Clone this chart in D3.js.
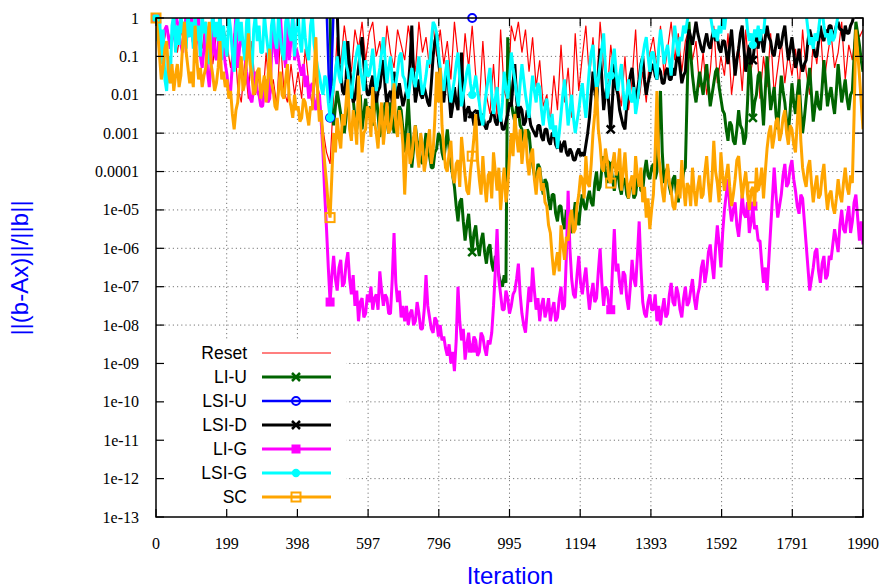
<!DOCTYPE html>
<html><head><meta charset="utf-8">
<script src="https://cdn.jsdelivr.net/npm/d3@7"></script>
<style>body{margin:0;background:#fff}</style></head>
<body>
<svg id="c" width="887" height="588"></svg>
<script>
// ---- data: log10 of ||b-Ax||/||b|| ----
// values above 0 lie above the plotted range (clipped, as in the original)
const xTickValues = [0,199,398,597,796,995,1194,1393,1592,1791,1990];
const yTickValues = [1,1e-1,1e-2,1e-3,1e-4,1e-5,1e-6,1e-7,1e-8,1e-9,1e-10,1e-11,1e-12,1e-13];
const yTickLabels = ["1","0.1","0.01","0.001","0.0001","1e-05","1e-06","1e-07","1e-08","1e-09","1e-10","1e-11","1e-12","1e-13"];
const seriesNames = ["Reset","LI-U","LSI-U","LSI-D","LI-G","LSI-G","SC"];
const seriesSteps = [10, 5, 10, 5, 5, 5, 5];   // iterations between stored samples
const markerIters = [0, 490, 890, 1280, 1680];

const resetLog = [0,-0.4,-0.8,-0.2,-0.6,-0.1,-0.9,-0.3,-0.7,-0.2,
-0.5,-1.0,-0.3,-0.8,-0.1,-0.6,-1.2,-0.4,-0.9,-0.2,
-0.7,-1.3,-0.4,-1.8,-2.2,-1.1,-2.1,-0.6,-2.0,-1.5,
-2.2,-0.9,-2.1,-1.6,-2.3,-0.5,-1.9,-2.2,-1.2,-2.0,
-1.4,-2.1,-0.8,-1.7,-2.3,-1.5,-2.0,-2.9,-3.5,-3.8,
-2.0,-0.5,-1.2,-0.2,-0.9,-1.4,-0.3,-0.8,-0.1,-1.1,
-0.4,-0.1,-1.0,-0.6,-1.5,-0.2,-0.9,-1.3,-0.3,-0.7,
-1.1,-0.2,-0.8,-1.4,-0.1,-0.9,-0.5,-1.3,-0.2,-1.0,
-0.3,-1.2,-0.6,-1.6,-0.1,-1.0,-1.8,-0.4,-1.3,-0.2,
-1.5,-2.3,-0.6,-2.0,-2.5,-1.2,-2.6,-0.3,-1.9,-2.2,
-0.2,-0.6,-0.1,-0.9,-0.3,-1.4,-0.5,-1.8,-1.1,-2.3,
-2.0,-2.7,-1.5,-2.4,-0.7,-2.2,-1.3,-2.6,-0.4,-1.9,
-1.0,-0.2,-1.6,-0.5,-1.9,-0.1,-1.2,-2.0,-0.7,-1.5,
-1.8,-2.3,-1.0,-2.4,-1.6,-0.3,-2.1,-1.4,-2.2,-0.9,
-0.5,-1.3,-0.2,-1.5,-0.8,-0.1,-1.1,-0.4,-1.4,-0.6,
-0.3,-1.1,-0.6,-1.8,-0.9,-2.0,-1.4,-0.2,-1.7,-1.0,
-1.5,-0.4,-2.0,-1.2,-0.7,-1.9,-0.3,-1.6,-1.1,-0.5,
-2.1,-1.0,-1.8,-0.4,-2.0,-1.3,-0.6,-1.7,-0.9,-1.5,
-0.8,-1.9,-0.3,-1.4,-2.0,-0.6,-1.2,-0.2,-1.7,-1.0,
-0.4,-1.3,-0.9,-0.1,-1.6,-0.7,-1.1,-0.2,-0.5,-0.3];

const liULog = [0,0.2,0.1,0.3,0.2,0.1,0.3,0.2,0.1,0.2,0.3,0.1,0.2,0.3,0.1,0.2,0.3,0.2,0.1,0.2,
0.3,0.1,0.2,0.3,0.1,0.2,0.3,0.2,0.1,0.2,0.3,0.1,0.2,0.3,0.1,0.2,0.3,0.2,0.1,0.2,
0.3,0.1,0.2,0.3,0.1,0.2,0.3,0.2,0.1,0.2,0.3,0.1,0.2,0.3,0.1,0.2,0.3,0.2,0.1,0.2,
0.3,0.1,0.2,0.3,0.1,0.2,0.3,0.2,0.1,0.2,0.3,0.1,0.2,0.3,0.1,0.2,0.3,0.2,0.1,0.2,
0.1,0.2,0.3,0.1,0.2,0.3,0.1,0.2,0.3,0.1,0.2,0.3,0.1,0.2,0.3,0.1,0.2,0.3,0.1,-2.3,
-2.8,-2.3,-1.9,-2.2,-2.5,-2.8,-3.0,-2.6,-2.2,-1.9,-1.7,-2.1,-2.6,-2.9,-2.4,-2.0,-2.9,-2.5,-2.1,-2.6,
-2.3,-2.6,-2.8,-2.4,-2.0,-2.5,-3.1,-2.8,-2.5,-2.2,-2.7,-3.0,-2.2,-2.6,-3.0,-2.7,-2.6,-2.3,-2.4,-2.9,
-3.5,-2.8,-2.1,-3.0,-3.9,-3.4,-2.8,-3.2,-3.3,-3.7,-3.8,-3.4,-3.0,-3.5,-3.6,-3.9,-3.9,-3.5,-3.4,-3.0,
-3.1,-3.5,-3.7,-3.3,-2.9,-3.4,-3.8,-4.1,-4.4,-4.9,-5.3,-4.8,-4.7,-5.3,-5.8,-5.4,-5.1,-5.7,-6.1,-5.6,
-5.4,-5.9,-6.2,-5.8,-5.6,-6.1,-6.4,-6.0,-5.9,-6.4,-6.6,-6.2,-6.3,-6.7,-6.9,-7.0,-6.7,-6.9,-0.5,-1.6,
-2.2,-2.5,-2.7,-2.3,-2.4,-2.8,-2.9,-3.2,-3.3,-2.9,-3.0,-3.5,-3.8,-4.1,-4.3,-3.8,-3.9,-4.3,-4.6,-4.2,
-4.3,-4.7,-5.0,-4.6,-4.6,-5.1,-5.3,-4.9,-4.9,-5.3,-5.5,-5.0,-5.1,-5.5,-5.6,-5.2,-4.8,-5.1,-5.4,-4.9,
-4.6,-4.9,-5.0,-4.7,-4.5,-4.8,-4.9,-4.3,-4.0,-4.5,-4.4,-3.9,-3.6,-4.0,-4.3,-3.9,-3.8,-4.2,-4.5,-4.1,
-4.0,-4.4,-4.6,-4.2,-4.2,-4.6,-4.7,-4.3,-4.3,-4.7,-4.6,-4.2,-4.1,-4.5,-4.5,-4.0,-3.7,-4.1,-4.2,-3.9,
-3.8,-4.2,-4.0,-2.8,-1.9,-3.5,-4.3,-4.0,-3.9,-4.4,-4.6,-4.2,-4.1,-4.6,-4.8,-4.3,-4.4,-4.0,-3.9,-2.0,
-0.1,-0.9,-1.5,-1.9,-2.2,-1.8,-1.4,-1.7,-2.0,-1.6,-1.2,-1.8,-2.3,-2.0,-1.7,-1.4,-1.3,-1.8,-2.1,-2.4,
-2.5,-2.9,-3.2,-2.7,-2.8,-3.2,-3.3,-2.9,-2.4,-2.8,-2.9,-3.3,-3.1,-2.2,-1.0,-1.6,-2.6,-2.2,-2.0,-1.5,
-1.4,-2.1,-2.8,-1.9,-1.0,-1.7,-2.4,-2.1,-1.8,-2.5,-2.9,-2.2,-1.5,-1.9,-2.2,-2.7,-3.0,-2.4,-1.7,-2.2,
-2.5,-2.0,-1.6,-2.4,-3.0,-2.6,-2.1,-1.7,-1.3,-2.0,-2.7,-2.3,-1.9,-2.3,-2.4,-1.8,-1.1,-1.7,-2.3,-2.0,
-1.8,-2.2,-2.5,-1.9,-1.2,-1.7,-2.2,-1.9,-1.6,-2.1,-2.4,-2.0,-1.9,-1.0,-0.1,-0.4,-0.7,-1.1,-1.4];

const lsiULog = [0,0.3,0.3,0.3,0.3,0.3,0.3,0.3,0.3,0.3,
0.3,0.3,0.3,0.3,0.3,0.3,0.3,0.3,0.3,0.3,
0.3,0.3,0.3,0.3,0.3,0.3,0.3,0.3,0.3,0.3,
0.3,0.3,0.3,0.3,0.3,0.3,0.3,0.3,0.3,0.3,
0.3,0.3,0.3,0.3,0.3,0.3,0.3,0.3,0.3,-2.6,
0.3,0.3,0.3,0.3,0.3,0.3,0.3,0.3,0.3,0.3,
0.3,0.3,0.3,0.3,0.3,0.3,0.3,0.3,0.3,0.3,
0.3,0.3,0.3,0.3,0.3,0.3,0.3,0.3,0.3,0.3,
0.3,0.3,0.3,0.3,0.3,0.3,0.3,0.3,0.3,0,
0.3,0.3,0.3,0.3,0.3,0.3,0.3,0.3,0.3,0.3,
0.3,0.3,0.3,0.3,0.3,0.3,0.3,0.3,0.3,0.3,
0.3,0.3,0.3,0.3,0.3,0.3,0.3,0.3,0.3,0.3,
0.3,0.3,0.3,0.3,0.3,0.3,0.3,0.3,0.3,0.3,
0.3,0.3,0.3,0.3,0.3,0.3,0.3,0.3,0.3,0.3,
0.3,0.3,0.3,0.3,0.3,0.3,0.3,0.3,0.3,0.3,
0.3,0.3,0.3,0.3,0.3,0.3,0.3,0.3,0.3,0.3,
0.3,0.3,0.3,0.3,0.3,0.3,0.3,0.3,0.3,0.3,
0.3,0.3,0.3,0.3,0.3,0.3,0.3,0.3,0.3,0.3,
0.3,0.3,0.3,0.3,0.3,0.3,0.3,0.3,0.3,0.3,
0.3,0.3,0.3,0.3,0.3,0.3,0.3,0.3,0.3,0.3];

const lsiDLog = [0,0.2,0.1,0.3,0.2,0.1,0.3,0.2,0.1,0.2,0.3,0.1,0.2,0.3,0.1,0.2,0.3,0.2,0.1,0.2,
0.3,0.1,0.2,0.3,0.1,0.2,0.3,0.2,0.1,0.2,0.3,0.1,0.2,0.3,0.1,0.2,0.3,0.2,0.1,0.2,
0.3,0.1,0.2,0.3,0.1,0.2,0.3,0.2,0.1,0.2,0.3,0.1,0.2,0.3,0.1,0.2,0.3,0.2,0.1,0.2,
0.3,0.1,0.2,0.3,0.1,0.2,0.3,0.2,0.1,0.2,0.3,0.1,0.2,0.3,0.1,0.2,0.3,0.2,0.1,0.2,
0.2,0.1,0.3,0.2,0.1,0.3,0.2,0.1,0.3,0.2,0.1,0.2,0.3,0.1,0.2,0.3,0.1,0.2,0.2,0.1,
0.2,0.1,0.2,-1.2,-1.4,-1.9,-2.0,-1.6,-0.6,-1.3,-1.8,-2.2,-2.1,-1.7,-1.3,-0.9,-0.5,-1.2,-1.7,-2.0,
-2.0,-1.7,-1.5,-2.0,-2.2,-1.9,-1.8,-1.4,-1.1,-1.8,-2.3,-2.0,-1.9,-2.2,-1.4,-1.8,-2.1,-1.7,-2.0,-2.3,
-2.1,-1.9,-1.8,-1.2,-0.2,-1.5,-2.2,-1.9,-1.6,-2.0,-2.1,-1.8,-2.0,-2.2,-2.3,-1.7,-1.0,-0.6,-0.4,-1.1,
-1.5,-1.9,-2.2,-1.7,-1.1,-2.0,-2.6,-2.3,-1.8,-2.2,-2.4,-1.6,-0.9,-2.1,-2.7,-2.4,-2.3,-2.6,-2.5,-2.8,
-2.6,-2.4,-2.8,-2.6,-2.5,-2.8,-2.9,-2.7,-2.7,-2.5,-2.4,-2.7,-2.8,-2.5,-2.6,-2.9,-2.9,-2.7,-2.5,-2.2,
-2.3,-1.7,-1.2,-2.1,-2.6,-2.3,-2.4,-2.8,-2.7,-2.4,-2.5,-2.8,-2.9,-3.0,-3.1,-2.8,-2.8,-3.1,-3.2,-2.9,
-2.9,-3.2,-3.3,-3.0,-3.0,-3.3,-3.4,-3.2,-3.5,-3.3,-3.2,-3.5,-3.6,-3.4,-3.5,-3.7,-3.7,-3.5,-3.4,-3.6,
-3.5,-3.6,-3.3,-3.0,-2.6,-2.0,-1.4,-1.9,-2.2,-1.5,-0.8,-1.6,-2.4,-2.0,-1.7,-2.3,-2.9,-2.1,-1.2,-1.8,
-2.0,-2.4,-2.6,-2.8,-2.9,-2.3,-1.8,-1.5,-1.3,-1.8,-2.2,-1.9,-1.6,-1.2,-1.0,-1.6,-2.0,-1.7,-1.5,-1.3,
-1.2,-1.5,-1.6,-1.3,-1.4,-1.7,-1.7,-1.4,-1.3,-1.6,-1.6,-1.3,-1.5,-1.1,-0.9,-1.3,-1.7,-1.5,-1.4,-0.7,
-0.3,-0.5,-0.7,-0.4,-0.1,-0.4,-0.6,-0.8,-0.9,-0.6,-0.4,-0.7,-0.8,-0.5,-0.3,-0.6,-0.5,-0.8,-0.9,-0.6,
-0.6,-0.9,-1.2,-0.7,-0.3,-0.9,-1.5,-1.1,-0.8,-0.4,-0.2,-0.8,-1.4,-1.0,-0.7,-1.2,-1.1,-0.7,-0.4,-0.8,
-0.3,-0.6,-0.9,-0.5,-0.2,-0.5,-0.6,-0.9,-1.0,-0.7,-0.4,-0.8,-0.7,-0.4,-0.2,-0.7,-1.1,-0.8,-0.5,-0.9,
-1.3,-1.1,-0.8,-1.2,-1.4,-1.2,-1.1,-0.6,-0.3,-0.5,-0.7,-1.0,-1.0,-0.6,-0.2,-0.5,-0.6,-0.3,-0.4,-0.2,
-0.2,-0.5,-0.4,-0.2,-0.1,-0.3,-0.3,-0.6,-0.2,-0.4,-0.4,-0.2,-0.1,0.1,0.1,0.2,0.1,0.2,0.1];

const liGLog = [0,-0.2,-0.3,-0.7,-0.6,-0.3,-0.2,-0.5,-0.8,-0.6,-0.4,0.1,-0.1,-0.4,-0.7,-0.9,-0.3,0.1,-0.5,-0.3,
0.1,-0.6,-0.9,-0.5,0.1,-1.0,-1.3,-0.8,-0.2,-1.4,-1.8,-1.2,0.1,-0.9,-1.1,-0.7,0.1,-0.6,-0.8,-1.2,
-1.5,-2.0,-1.9,-1.2,-0.7,0.1,-1.3,-0.8,-0.4,-0.7,-1.0,-1.4,-1.7,-2.1,-2.2,-1.8,-1.4,-1.9,-2.0,-2.3,
-2.3,-1.9,-1.6,-2.2,-2.1,-1.0,0.1,-0.9,-1.2,-0.6,0.1,-0.7,-0.9,-1.3,0.1,-1.1,-0.6,0.1,-1.1,-0.8,
-1.0,-1.3,-1.5,-1.2,-1.8,-1.5,-2.1,-1.8,-1.7,-2.2,-2.4,-2.0,-2.0,-2.7,-3.5,-4.6,-5.5,-6.5,-7.4,-6.7,
-6.2,-6.8,-7.1,-6.5,-6.3,-7.0,-6.9,-6.4,-6.1,-6.8,-7.2,-6.7,-7.5,-7.1,-7.9,-7.4,-7.3,-7.8,-7.7,-7.2,
-7.4,-7.0,-7.6,-7.3,-7.2,-7.6,-6.6,-7.1,-7.5,-7.2,-7.3,-7.7,-7.7,-6.8,-5.6,-6.9,-7.4,-7.1,-7.8,-7.5,
-7.9,-7.5,-8.0,-7.7,-7.6,-8.0,-7.9,-7.4,-7.7,-8.1,-8.1,-7.6,-6.7,-7.5,-7.8,-8.1,-8.2,-7.8,-7.9,-8.3,
-8.0,-8.4,-8.3,-8.6,-8.8,-8.5,-9.0,-8.7,-9.2,-8.4,-7.0,-7.9,-8.4,-8.1,-8.9,-8.5,-8.2,-8.7,-8.6,-8.3,
-8.4,-8.8,-8.7,-8.2,-8.3,-8.6,-8.8,-8.4,-8.5,-8.2,-7.5,-6.6,-5.5,-6.8,-7.2,-7.6,-7.6,-7.1,-7.3,-7.7,
-7.5,-7.2,-7.1,-6.8,-6.4,-7.2,-7.7,-8.0,-8.2,-7.6,-7.0,-7.4,-6.5,-7.1,-7.6,-7.3,-7.9,-7.5,-7.3,-7.8,
-7.6,-7.3,-7.9,-7.6,-7.4,-7.9,-7.8,-7.3,-7.0,-7.6,-7.5,-6.2,-4.5,-6.0,-6.8,-7.2,-7.3,-6.7,-6.2,-6.9,
-7.2,-6.8,-6.5,-7.1,-7.6,-7.2,-6.9,-7.4,-7.3,-6.6,-6.0,-6.9,-7.5,-7.0,-7.1,-7.5,-7.6,-6.5,-5.5,-6.6,
-6.4,-6.9,-7.2,-6.6,-6.7,-7.3,-7.6,-7.0,-6.3,-6.8,-7.0,-6.2,-5.3,-6.5,-7.4,-7.7,-7.8,-7.4,-7.2,-7.6,
-7.6,-7.2,-7.9,-7.5,-8.0,-7.6,-7.3,-7.8,-7.7,-7.2,-6.9,-7.4,-7.5,-7.0,-7.2,-7.6,-7.8,-7.3,-7.0,-7.5,
-7.4,-7.1,-6.8,-7.3,-7.6,-7.2,-7.0,-6.5,-6.3,-6.9,-6.6,-6.1,-5.9,-6.4,-6.8,-6.0,-5.4,-5.9,-6.5,-5.6,
-5.0,-4.6,-4.2,-4.9,-5.3,-5.0,-4.8,-5.4,-5.7,-5.2,-4.6,-5.1,-5.2,-4.8,-5.6,-5.3,-4.9,-5.5,-5.4,-5.8,
-5.8,-6.4,-6.9,-6.5,-7.1,-6.3,-5.5,-4.7,-3.9,-4.6,-5.2,-4.9,-4.6,-4.1,-3.8,-4.4,-4.3,-3.9,-3.7,-4.2,
-4.5,-4.9,-5.1,-4.6,-4.7,-5.3,-5.9,-6.5,-7.1,-6.8,-6.5,-6.1,-6.0,-6.6,-6.9,-6.4,-6.2,-6.8,-6.7,-6.2,
-6.3,-5.9,-5.5,-5.8,-6.1,-5.4,-5.0,-5.5,-5.6,-5.2,-4.9,-5.6,-5.3,-4.8,-4.6,-5.2,-5.8,-5.3,-5.9];

const lsiGLog = [0,-0.6,0.1,-1.2,-0.3,-1.6,-1.9,-1.0,-1.7,-0.2,0.1,-0.9,-0.2,-0.7,0.1,-0.4,-0.1,-0.8,0.2,-0.5,
-0.1,-0.8,0.1,-0.6,-0.2,-1.0,0.1,-0.4,-0.1,-0.8,-1.2,-0.3,0.1,-0.5,-0.1,-0.6,0.2,-1.1,-0.2,-0.7,
-1.0,0.1,-0.3,-0.9,-1.4,-0.2,0.1,-0.6,-0.1,-0.7,-1.1,-0.1,0.2,-1.1,-1.5,-0.3,0.1,-0.6,-0.2,-0.9,
-0.9,0.1,-0.4,-0.8,-1.2,-0.2,0.1,-0.6,-0.8,0.1,-0.5,-0.9,-1.1,-0.1,0.1,-0.4,-0.6,0.1,-1.0,-0.3,
0.1,-0.6,-0.9,0.1,-0.5,-0.9,-1.1,-0.2,0.1,-0.7,-1.0,-1.3,-1.5,-1.8,-2.0,-1.5,-1.6,-2.2,-2.6,-2.1,
-1.8,-1.4,-1.0,-1.5,-1.7,-1.1,-0.6,-1.2,-1.4,-1.8,-2.1,-1.6,-1.2,-0.9,-0.7,-1.3,-1.6,-1.9,-1.1,-1.5,
-1.5,-1.2,-0.8,-1.4,-1.9,-1.6,-1.3,-0.9,-0.5,-1.1,-1.7,-1.3,-1.0,-1.6,-2.0,-1.7,-1.4,-1.0,-0.9,-1.5,
-1.6,-1.9,-2.1,-1.7,-1.3,-1.6,-1.8,-1.4,-1.0,-1.6,-2.0,-1.8,-1.5,-1.1,-1.2,-0.6,-0.1,-0.2,-0.4,-0.9,
-1.3,-1.7,-1.9,-1.4,-1.1,-1.8,-2.2,-1.9,-1.6,-1.2,-0.9,-1.6,-2.3,-2.0,-1.7,-1.4,-1.2,-1.7,-2.0,-1.8,
-1.5,-1.9,-2.2,-2.6,-2.8,-2.3,-1.9,-1.6,-1.3,-2.0,-2.5,-2.1,-1.8,-2.4,-2.7,-2.2,-1.4,-1.8,-2.1,-1.6,
-0.9,-1.3,-1.6,-2.0,-2.3,-1.7,-1.2,-1.6,-2.0,-2.3,-2.6,-2.0,-1.5,-1.9,-2.2,-1.7,-1.8,-2.4,-2.8,-2.3,
-2.1,-2.6,-2.9,-2.5,-3.1,-2.8,-3.4,-3.0,-2.5,-2.0,-1.6,-2.2,-2.8,-2.4,-2.0,-2.6,-3.0,-2.7,-2.4,-2.0,
-1.7,-2.2,-2.6,-1.9,-1.3,-0.9,-0.7,-1.4,-1.9,-1.6,-1.2,-0.8,-0.4,-1.3,-2.1,-1.8,-1.5,-1.1,-0.8,-1.4,
-1.9,-1.5,-1.2,-1.9,-2.4,-2.0,-1.6,-2.1,-2.2,-1.8,-2.5,-2.2,-1.8,-1.3,-1.0,-0.7,-0.5,-1.0,-1.4,-0.9,
-0.9,-1.3,-1.6,-0.8,-0.3,-0.7,-1.2,-0.9,-0.7,-1.1,-1.5,-0.8,-0.2,-0.6,-1.0,-0.5,-0.6,-0.2,-0.4,-0.1,
0.2,0.3,0.1,0.2,0.3,0.1,0.2,0.3,0.1,0.2,0.3,0.2,0.1,-0.2,-0.5,-0.3,-0.6,-0.2,-0.4,0.1,
-0.3,0.1,0.2,0.3,0.1,0.2,0.3,0.2,0.1,0.3,0.2,0.1,0.2,-0.3,-0.6,-0.4,-0.7,-0.3,-0.5,-0.2,
-0.6,-0.3,-0.4,0.1,0.2,0.3,0.1,0.2,0.3,0.2,0.1,0.3,0.2,0.1,0.3,0.2,0.1,0.2,0.3,0.2,
0.1,0.3,0.2,0.1,0.3,0.2,0.1,-0.3,-0.7,-0.5,-0.8,-0.4,-0.6,-0.3,0.1,0.2,-0.2,-0.5,-0.4,-0.7,
-0.3,-0.6,-0.5,-0.2,0.1,0.2,0.3,0.1,0.2,0.3,0.1,0.2,0.3,0.2,0.1,0.2,0.3,0.1,0.2];

const scLog = [0,-0.4,-1.0,-1.6,-1.3,-0.8,-0.6,-1.4,-1.7,-1.2,-1.9,-1.5,-1.2,-1.8,-1.5,-0.7,-0.1,-0.9,-1.3,-1.7,
-1.4,-1.8,-0.2,-1.1,-1.6,-1.3,-1.8,-1.5,-1.3,-0.7,-0.1,-1.2,-1.5,-1.9,-1.7,-1.3,-0.6,-1.6,-1.4,-1.8,
-1.6,-2.1,-1.9,-2.5,-2.9,-2.4,-2.2,-1.5,-1.0,-1.9,-1.7,-1.1,-0.4,-1.2,-1.5,-2.0,-1.9,-1.4,-1.3,-2.1,
-1.8,-1.5,-2.2,-1.6,-0.8,-1.7,-1.9,-2.3,-2.4,-1.9,-1.4,-2.0,-2.1,-1.6,-1.2,-2.1,-2.3,-2.6,-2.0,-2.4,
-2.3,-2.7,-2.6,-2.1,-2.2,-2.5,-2.8,-2.3,-2.4,-1.5,-0.5,-2.0,-2.7,-2.4,-3.2,-3.8,-4.3,-4.9,-5.2,-4.1,
-3.0,-3.5,-2.6,-3.1,-3.4,-2.5,-2.8,-2.2,-1.6,-2.9,-3.2,-2.4,-2.7,-3.3,-1.5,-2.6,-3.5,-3.0,-2.9,-2.3,
-2.4,-3.1,-1.8,-2.7,-3.0,-3.4,-2.6,-2.2,-3.3,-2.8,-2.2,-3.0,-2.9,-2.5,-1.7,-2.8,-3.1,-2.4,-2.7,-3.3,
-4.6,-3.5,-3.0,-3.8,-3.6,-3.1,-2.8,-3.5,-3.9,-3.0,-3.3,-4.0,-3.7,-3.2,-2.9,-3.8,-3.5,-2.6,-1.4,-2.2,
-1.3,-2.8,-3.4,-3.9,-4.0,-3.5,-3.2,-4.1,-4.3,-3.8,-3.7,-4.4,-3.1,-3.6,-4.1,-4.5,-4.6,-4.0,-3.6,-3.1,
-2.5,-3.7,-4.2,-4.6,-3.6,-4.3,-4.8,-4.1,-4.0,-4.7,-3.5,-4.0,-4.5,-3.9,-5.0,-4.4,-3.9,-4.8,-4.4,-3.6,
-3.0,-3.6,-2.5,-3.1,-3.5,-2.9,-3.8,-3.3,-2.9,-3.7,-4.1,-3.6,-3.4,-4.2,-4.6,-4.0,-3.9,-4.5,-4.3,-4.8,
-4.9,-5.4,-5.6,-6.2,-6.7,-6.4,-6.1,-6.6,-5.4,-5.9,-6.3,-5.7,-5.8,-5.2,-5.0,-5.6,-5.5,-4.9,-4.6,-4.1,
-4.2,-4.7,-3.6,-4.3,-4.4,-3.8,-3.0,-2.5,-1.8,-2.9,-3.3,-3.9,-4.0,-3.4,-3.7,-4.2,-4.3,-3.8,-3.5,-4.1,
-3.9,-3.4,-4.5,-4.0,-3.5,-4.2,-4.7,-4.3,-4.1,-4.6,-3.6,-4.1,-4.4,-3.9,-4.8,-4.4,-5.2,-4.7,-5.5,-5.0,
-4.6,-3.5,-1.9,-3.6,-4.0,-4.5,-4.8,-4.2,-3.8,-4.3,-4.5,-4.9,-5.0,-4.6,-4.2,-4.7,-3.7,-4.4,-4.9,-4.3,
-4.4,-4.9,-3.9,-4.5,-4.9,-4.4,-4.1,-4.7,-4.6,-4.0,-3.6,-4.3,-4.8,-4.2,-3.2,-4.0,-4.3,-4.8,-3.5,-4.1,
-4.5,-4.1,-3.8,-4.4,-4.9,-4.6,-4.2,-3.7,-3.6,-4.2,-4.7,-4.3,-4.0,-4.6,-5.0,-4.5,-4.4,-4.9,-3.9,-4.5,
-4.3,-3.9,-4.7,-4.0,-3.4,-3.0,-2.8,-3.4,-3.1,-2.7,-2.6,-3.2,-3.0,-2.6,-2.4,-3.0,-3.3,-2.8,-2.9,-3.3,
-3.5,-2.7,-2.0,-3.2,-3.9,-4.2,-4.4,-3.9,-3.7,-4.3,-4.8,-4.4,-4.1,-4.7,-4.6,-4.1,-3.8,-4.5,-5.0,-4.6,
-4.5,-4.9,-5.1,-4.7,-4.2,-4.6,-4.8,-4.3,-3.9,-4.4,-4.6,-4.1,-4.3,-2.5,-0.3,-0.9,-1.5,-2.2,-2.9];

const seriesLogs = [resetLog, liULog, lsiULog, lsiDLog, liGLog, lsiGLog, scLog];

// ---- styles ----
const colors = ["#ff0000","#006400","#0000ff","#000000","#ff00ff","#00ffff","#ffa500"];
const widths = [1.2, 3, 2.5, 3, 3, 3, 3];
const markers = [null,"x","circleOpen","x","squareFill","circleFill","squareOpen"];

const L = 156, R = 863, T = 18, B = 517;
const svg = d3.select("#c");
const x = d3.scaleLinear().domain([0, 1990]).range([L, R]);
const y = d3.scaleLog().domain([1e-13, 1]).range([B, T]);

// grid
const g = svg.append("g");
g.selectAll(".gx").data(xTickValues.slice(1, -1)).join("line")
  .attr("x1", d => x(d)).attr("x2", d => x(d)).attr("y1", T).attr("y2", B)
  .attr("stroke", "#777").attr("stroke-width", 1).attr("stroke-dasharray", "1.2,3");
g.selectAll(".gy").data(yTickValues.slice(1, -1)).join("line")
  .attr("x1", L).attr("x2", R).attr("y1", d => y(d)).attr("y2", d => y(d))
  .attr("stroke", "#777").attr("stroke-width", 1).attr("stroke-dasharray", "1.2,3");

// opaque key background
svg.append("rect").attr("x", 158).attr("y", 341).attr("width", 188).attr("height", 171).attr("fill", "#fff");

svg.append("clipPath").attr("id", "clip").append("rect")
  .attr("x", L).attr("y", T).attr("width", R - L).attr("height", B - T);

function drawMarker(sel, type, cx, cy, color) {
  const s = 4;
  if (type === "x") {
    sel.append("path").attr("d", `M${cx-s},${cy-s}L${cx+s},${cy+s}M${cx-s},${cy+s}L${cx+s},${cy-s}`)
      .attr("stroke", color).attr("stroke-width", 2.5).attr("fill", "none");
  } else if (type === "circleOpen") {
    sel.append("circle").attr("cx", cx).attr("cy", cy).attr("r", 4)
      .attr("fill", "none").attr("stroke", color).attr("stroke-width", 2);
  } else if (type === "circleFill") {
    sel.append("circle").attr("cx", cx).attr("cy", cy).attr("r", 4.2).attr("fill", color);
  } else if (type === "squareFill") {
    sel.append("rect").attr("x", cx - 4.5).attr("y", cy - 4.5).attr("width", 9).attr("height", 9).attr("fill", color);
  } else if (type === "squareOpen") {
    sel.append("rect").attr("x", cx - 4.5).attr("y", cy - 4.5).attr("width", 9).attr("height", 9)
      .attr("fill", "none").attr("stroke", color).attr("stroke-width", 2);
  }
}

seriesLogs.forEach((data, k) => {
  const step = seriesSteps[k];
  const line = d3.line().x((d, i) => x(i * step)).y(d => y(Math.pow(10, d)));
  const layer = svg.append("g");
  layer.append("path").datum(data).attr("d", line).attr("clip-path", "url(#clip)")
    .attr("fill", "none").attr("stroke", colors[k]).attr("stroke-width", widths[k])
    .attr("stroke-linejoin", "bevel");
  if (markers[k]) {
    markerIters.forEach(it => {
      const v = data[Math.round(it / step)];
      if (v <= 0) drawMarker(layer, markers[k], x(it), y(Math.pow(10, v)), colors[k]);
    });
  }
});

// frame and ticks
svg.append("rect").attr("x", L).attr("y", T).attr("width", R - L).attr("height", B - T)
  .attr("fill", "none").attr("stroke", "#000").attr("stroke-width", 1.5);
const tk = svg.append("g").attr("stroke", "#000").attr("stroke-width", 1.2);
xTickValues.forEach(v => {
  tk.append("line").attr("x1", x(v)).attr("x2", x(v)).attr("y1", B).attr("y2", B - 8);
  tk.append("line").attr("x1", x(v)).attr("x2", x(v)).attr("y1", T).attr("y2", T + 8);
});
yTickValues.forEach(v => {
  tk.append("line").attr("x1", L).attr("x2", L + 8).attr("y1", y(v)).attr("y2", y(v));
  tk.append("line").attr("x1", R).attr("x2", R - 8).attr("y1", y(v)).attr("y2", y(v));
});

// tick labels
svg.selectAll(".xl").data(xTickValues).join("text")
  .attr("x", d => x(d)).attr("y", 549).attr("text-anchor", "middle")
  .attr("font-family", "'Liberation Serif','Times New Roman',serif").attr("font-size", 16)
  .attr("fill", "#000").text(d => d);
svg.selectAll(".yl").data(yTickValues).join("text")
  .attr("x", 139).attr("y", d => y(d) + 5.5).attr("text-anchor", "end")
  .attr("font-family", "'Liberation Serif','Times New Roman',serif").attr("font-size", 16)
  .attr("fill", "#000").text((d, i) => yTickLabels[i]);

// axis titles
svg.append("text").attr("x", 510).attr("y", 584).attr("text-anchor", "middle")
  .attr("font-family", "'Liberation Sans',Arial,sans-serif").attr("font-size", 24)
  .attr("fill", "#0000ff").text("Iteration");
svg.append("text").attr("transform", "translate(28,268) rotate(-90)").attr("text-anchor", "middle")
  .attr("font-family", "'Liberation Sans',Arial,sans-serif").attr("font-size", 24)
  .attr("fill", "#0000ff").text("||(b-Ax)||/||b||");

// key
const lg = svg.append("g");
seriesNames.forEach((name, k) => {
  const ly = 353 + k * 24;
  lg.append("text").attr("x", 247).attr("y", ly + 6).attr("text-anchor", "end")
    .attr("font-family", "'Liberation Sans',Arial,sans-serif").attr("font-size", 17.5)
    .attr("fill", "#000").text(name);
  lg.append("line").attr("x1", 262).attr("x2", 331).attr("y1", ly).attr("y2", ly)
    .attr("stroke", colors[k]).attr("stroke-width", widths[k]);
  if (markers[k]) drawMarker(lg, markers[k], 296, ly, colors[k]);
});
</script>
</body></html>
